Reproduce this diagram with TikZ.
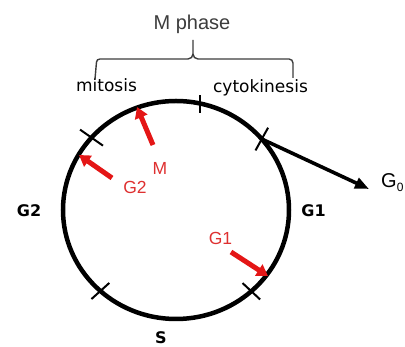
\documentclass[tikz,border=0pt]{standalone}
\usepackage{fontspec}
\setmainfont{Liberation Sans}
\newfontfamily\dvs{DejaVu Sans}
\usetikzlibrary{arrows.meta,calc}
\definecolor{arrred}{RGB}{228,22,22}
\definecolor{lblred}{RGB}{222,48,48}
\definecolor{txtgray}{RGB}{60,60,60}
\begin{document}
\begin{tikzpicture}[x=1pt,y=1pt,
  cyc/.style={line width=4.5pt},
  tickmark/.style={line width=2pt},
  bracepath/.style={line width=1.4pt,draw=txtgray},
  redarrow/.style={draw=arrred,line width=5pt,-{Triangle[length=11pt,width=13pt,fill=arrred]}},
  blackarrow/.style={line width=3.6pt,-{Triangle[length=14pt,width=11pt]}},
  toplbl/.style={inner sep=0pt,anchor=base,font=\dvs\fontsize{17}{17}\selectfont},
  sidelbl/.style={inner sep=0pt,anchor=base,font=\dvs\bfseries\fontsize{16}{16}\selectfont},
  redlbl/.style={inner sep=0pt,anchor=base,text=lblred,font=\fontsize{17.5}{17.5}\selectfont},
  biglbl/.style={inner sep=0pt,anchor=base,text=txtgray,font=\fontsize{20}{20}\selectfont}
]
\useasboundingbox (0,0) rectangle (405,347);
% cycle
\coordinate (c) at (176,137);
\draw[cyc] (c) ellipse [x radius=113, y radius=109];
% tick marks
\coordinate (tUL) at ($(c)+(138.4:113pt and 109pt)$);
\coordinate (tT)  at ($(c)+(77.7:113pt and 109pt)$);
\coordinate (tUR) at ($(c)+(40.6:113pt and 109pt)$);
\coordinate (tLL) at ($(c)+(228:113pt and 109pt)$);
\coordinate (tLR) at ($(c)+(311.8:113pt and 109pt)$);
\draw[tickmark] ($(tUL)+(145:-14)$) -- ($(tUL)+(145:14)$);
\draw[tickmark] ($(tT)+(90:-9)$) -- ($(tT)+(90:9)$);
\draw[tickmark] ($(tUR)+(61:-13)$) -- ($(tUR)+(61:13)$);
\draw[tickmark] ($(tLL)+(42:-12)$) -- ($(tLL)+(42:12)$);
\draw[tickmark] ($(tLR)+(-43:-12)$) -- ($(tLR)+(-43:12)$);
% labels
\node[biglbl] (mph) at (192,317) {M phase};
\node[toplbl] (mit) at (106.5,255) {mitosis};
\node[toplbl] (cyt) at (260.5,254) {cytokinesis};
\node[sidelbl] (g2l) at (29,130) {G2};
\node[sidelbl] (g1r) at (313.5,130) {G1};
\node[sidelbl] (sl) at (161,3) {S};
\node[biglbl,anchor=base west,text=black] (g0) at (381,159) {G\raisebox{-0.35ex}{\fontsize{12}{12}\selectfont 0}};
\node[redlbl] (rm) at (160,172) {M};
\node[redlbl] (rg2) at (135,153) {G2};
\node[redlbl] (rg1) at (220.5,102) {G1};
% brace
\draw[bracepath] (95,268) -- (96.5,285) to[out=90,in=180] (100,288) -- (188,288)
  to[out=0,in=-90] (193,293) -- (193,307);
\draw[bracepath] (193,293) to[out=-90,in=180] (198,288) -- (289,288)
  to[out=0,in=90] (293,284) -- (293,269);
% G0 arrow
\coordinate (g0tip) at (369,158);
\draw[blackarrow] (tUR) -- (g0tip);
% red arrows
\coordinate (mtail) at (153,202);
\coordinate (mtip) at (137,240);
\coordinate (g2tail) at (112,169);
\coordinate (g2tip) at (79,192);
\coordinate (g1tail) at (231,95);
\coordinate (g1tip) at (268,71);
\draw[redarrow] (mtail) -- (mtip);
\draw[redarrow] (g2tail) -- (g2tip);
\draw[redarrow] (g1tail) -- (g1tip);
\end{tikzpicture}
\end{document}
